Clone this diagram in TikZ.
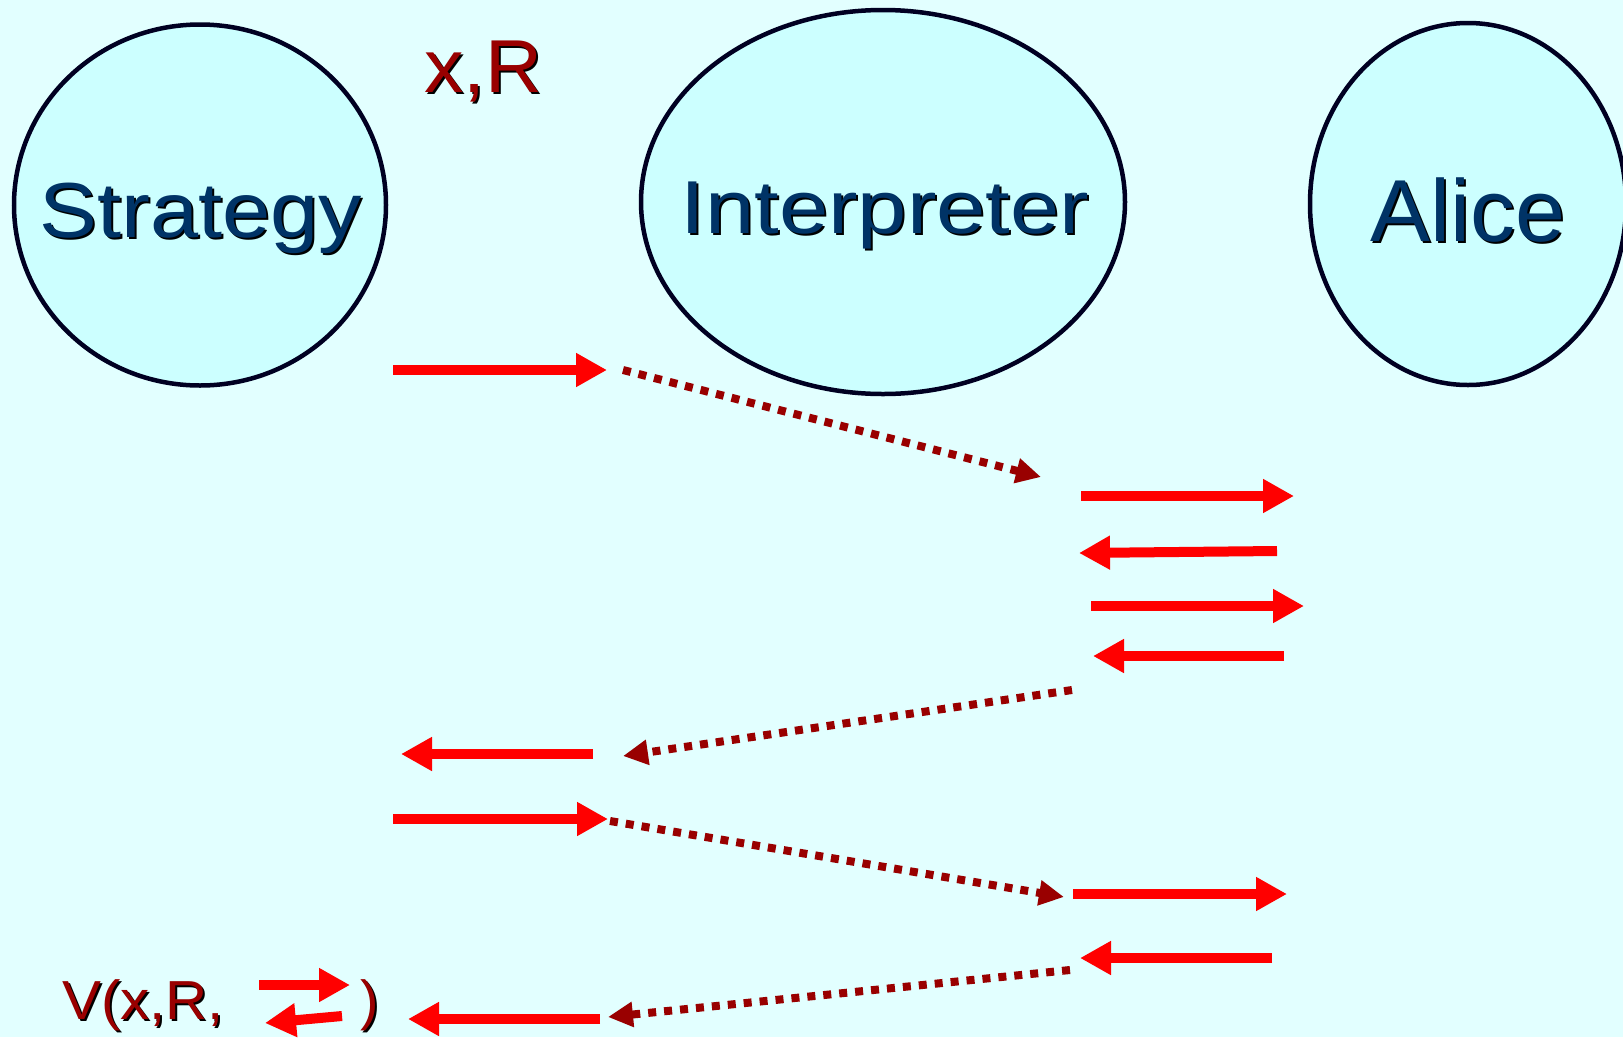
\documentclass[tikz,border=0pt]{standalone}
\usepackage{graphicx}
\usepackage{fontspec}
\setmainfont{Liberation Sans}
\usetikzlibrary{shapes.geometric,arrows.meta}
\definecolor{bg}{HTML}{E2FFFF}
\definecolor{ellfill}{HTML}{CCFFFF}
\definecolor{navy}{HTML}{003366}
\definecolor{dred}{HTML}{990000}
\definecolor{outline}{HTML}{000022}
\begin{document}
\begin{tikzpicture}[x=1pt,y=-1pt,
  bubble/.style={ellipse, draw=outline, fill=ellfill, line width=4.5pt, inner sep=0pt},
  bigtext/.style={font=\fontsize{78}{90}\selectfont, text=navy, anchor=base, inner sep=0pt},
  bigshadow/.style={bigtext, text=black},
  redtext/.style={font=\fontsize{75}{88}\selectfont, text=dred, anchor=base west, inner sep=0pt},
  redshadow/.style={redtext, text=black},
  smalltext/.style={font=\fontsize{55}{66}\selectfont, text=dred, anchor=base west, inner sep=0pt},
  smallshadow/.style={smalltext, text=black},
  redarrow/.style={draw=red, line width=10pt, -{Triangle[length=31pt,width=32pt]}},
  dotarrow/.style={draw=dred, line width=8pt, dash pattern=on 8pt off 8pt, -{Triangle[length=25pt,width=24pt]}},
]
\path[fill=bg] (0,0) rectangle (1623,1037);
\useasboundingbox (0,0) rectangle (1623,1037);

% bubbles
\node[bubble, minimum width=372pt, minimum height=361pt] (strategy) at (200,205) {};
\node[bubble, minimum width=484pt, minimum height=384pt] (interp) at (883,202) {};
\node[bubble, minimum width=316pt, minimum height=362pt] (alice) at (1468,204) {};

\node[bigshadow] (strategyS) at (203,239) {\scalebox{1.11}[1]{Strategy}};
\node[bigtext] (strategyT) at (201,237) {\scalebox{1.11}[1]{Strategy}};
\node[bigshadow, font=\fontsize{75}{88}\selectfont] (interpS) at (887,235) {\scalebox{1.18}[1]{Interpreter}};
\node[bigtext, font=\fontsize{75}{88}\selectfont] (interpT) at (885,233) {\scalebox{1.18}[1]{Interpreter}};
\node[bigshadow, font=\fontsize{88}{100}\selectfont] (aliceS) at (1470,243) {\scalebox{1.02}[1]{Alice}};
\node[bigtext, font=\fontsize{88}{100}\selectfont] (aliceT) at (1468,241) {\scalebox{1.02}[1]{Alice}};

% x,R label
\node[redshadow] (xrS) at (426,94) {\scalebox{1.05}[1]{x,R}};
\node[redtext] (xrT) at (424,92) {\scalebox{1.05}[1]{x,R}};

% bottom label
\node[smallshadow] (vS) at (64,1021) {\scalebox{1.06}[1]{V(x,R,}};
\node[smalltext] (vT) at (62,1019) {\scalebox{1.06}[1]{V(x,R,}};
\node[smallshadow] (cpS) at (362,1021) {)};
\node[smalltext] (cpT) at (360,1019) {)};

% coordinates
\coordinate (a1s) at (393,370);  \coordinate (a1e) at (607,370);
\coordinate (d1s) at (623,370);  \coordinate (d1e) at (1041,477);
\coordinate (As) at (1081,496);  \coordinate (Ae) at (1294,496);
\coordinate (Bs) at (1277,551);  \coordinate (Be) at (1079,553);
\coordinate (Cs) at (1091,606);  \coordinate (Ce) at (1304,606);
\coordinate (Ds) at (1284,656);  \coordinate (De) at (1093,656);
\coordinate (d2s) at (1072,690); \coordinate (d2e) at (623,756);
\coordinate (Es) at (593,754);   \coordinate (Ee) at (401,754);
\coordinate (Fs) at (393,819);   \coordinate (Fe) at (608,819);
\coordinate (d3s) at (610,821);  \coordinate (d3e) at (1064,897);
\coordinate (Gs) at (1073,894);  \coordinate (Ge) at (1287,894);
\coordinate (Hs) at (1272,958);  \coordinate (He) at (1080,958);
\coordinate (d4s) at (1070,970); \coordinate (d4e) at (608,1017);
\coordinate (Is) at (600,1019);  \coordinate (Ie) at (408,1019);
\coordinate (srs) at (259,985);  \coordinate (sre) at (350,985);
\coordinate (sls) at (342,1016); \coordinate (sle) at (265,1023);

% arrows
\draw[redarrow] (a1s) -- (a1e);
\draw[dotarrow] (d1s) -- (d1e);
\draw[redarrow] (As) -- (Ae);
\draw[redarrow] (Bs) -- (Be);
\draw[redarrow] (Cs) -- (Ce);
\draw[redarrow] (Ds) -- (De);
\draw[dotarrow] (d2s) -- (d2e);
\draw[redarrow] (Es) -- (Ee);
\draw[redarrow] (Fs) -- (Fe);
\draw[dotarrow] (d3s) -- (d3e);
\draw[redarrow] (Gs) -- (Ge);
\draw[redarrow] (Hs) -- (He);
\draw[dotarrow] (d4s) -- (d4e);
\draw[redarrow] (Is) -- (Ie);
\draw[redarrow] (srs) -- (sre);
\draw[redarrow] (sls) -- (sle);
\end{tikzpicture}
\end{document}
